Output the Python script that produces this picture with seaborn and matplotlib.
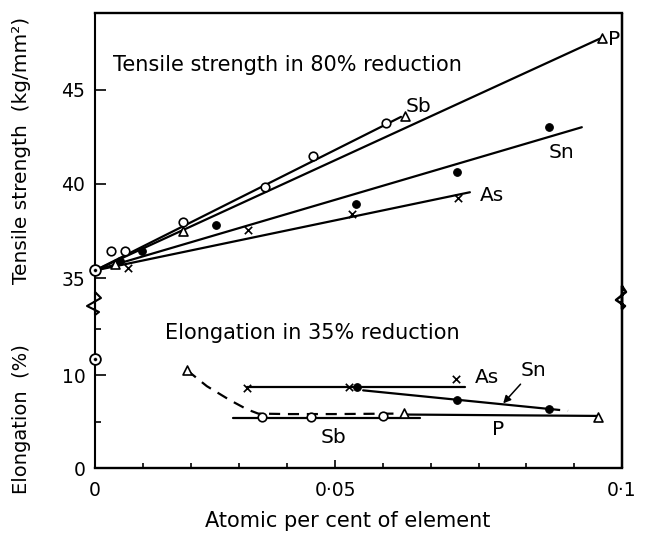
import numpy as np
import matplotlib
matplotlib.use("Agg")
import matplotlib.pyplot as plt
from matplotlib.ticker import NullFormatter
import seaborn as sns

# ---------------- data ----------------
# pure copper (0 at.% addition)
base_x = [0.0]
base_ts = [35.4]          # tensile strength, kg/mm^2
base_el = [11.7]          # elongation, %

# Tensile strength after 80 % reduction (kg/mm^2)
sb_ts_x = [0.0033, 0.0063, 0.0183, 0.0354, 0.0454, 0.0589]
sb_ts = [36.45, 36.45, 37.95, 39.85, 41.45, 43.2]
p_ts_x = [0.0042, 0.0183, 0.0622, 0.0965]
p_ts = [35.75, 37.5, 43.6, 47.75]
sn_ts_x = [0.0052, 0.0098, 0.0252, 0.0537, 0.0713, 0.0873]
sn_ts = [35.9, 36.45, 37.8, 38.95, 40.6, 43.0]
as_ts_x = [0.0069, 0.0319, 0.0530, 0.0714]
as_ts = [35.55, 37.55, 38.4, 39.25]

# fitted tensile lines
sb_ts_fit_x = [0.0, 0.0615]
sb_ts_fit = [35.4, 43.55]
p_ts_fit_x = [0.0, 0.0965]
p_ts_fit = [35.4, 47.75]
sn_ts_fit_x = [0.0, 0.093]
sn_ts_fit = [35.4, 43.0]
as_ts_fit_x = [0.0, 0.0735]
as_ts_fit = [35.4, 39.55]

# Elongation after 35 % reduction (%)
sb_el_x = [0.0348, 0.0450, 0.0584]
sb_el = [5.5, 5.5, 5.55]
p_el_x = [0.0192, 0.0620, 0.0958]
p_el = [10.5, 5.9, 5.5]
sn_el_x = [0.0538, 0.0713, 0.0873]
sn_el = [8.75, 7.3, 6.3]
as_el_x = [0.0317, 0.0525, 0.0711]
as_el = [8.6, 8.7, 9.6]

# elongation trend lines
sb_el_fit_x = [0.0288, 0.0648]
sb_el_fit = [5.4, 5.4]
p_el_curve_x = [0.0192, 0.0233, 0.0281, 0.0317, 0.0340, 0.0400, 0.0500, 0.0610]
p_el_curve = [10.5, 8.8, 7.3, 6.3, 5.85, 5.8, 5.8, 5.85]
p_el_fit_x = [0.0620, 0.0958]
p_el_fit = [5.75, 5.6]
sn_el_fit_x = [0.0549, 0.0873]
sn_el_fit = [8.35, 6.35]
sn_el_tail_x = [0.0873, 0.0906]
sn_el_tail = [6.35, 6.15]
as_el_fit_x = [0.0317, 0.0726]
as_el_fit = [8.7, 8.7]

# axis ticks
y_major = [0, 10, 35, 40, 45]
y_major_labels = ["0", "10", "35", "40", "45"]
y_minor = [5, 15]
x_major = [0.0, 0.05, 0.1]
x_major_labels = ["0", "0·05", "0·1"]


# ---------------- scales ----------------
def piecewise(v, xs, us):
    v = np.asarray(v, dtype=float)
    out = np.interp(v, xs, us)
    lo_slope = (us[1] - us[0]) / (xs[1] - xs[0])
    hi_slope = (us[-1] - us[-2]) / (xs[-1] - xs[-2])
    out = np.where(v < xs[0], us[0] + (v - xs[0]) * lo_slope, out)
    out = np.where(v > xs[-1], us[-1] + (v - xs[-1]) * hi_slope, out)
    return out


# broken y axis: elongation (0-16 %) below, tensile strength (35+) above
Y_V = [0.0, 16.0, 35.0, 50.0]
Y_U = [0.0, 148.8, 190.0, 190.0 + 15 * 18.85]
# x axis as drawn: the upper half is stretched slightly
X_V = [0.0, 0.05, 0.1]
X_U = [0.0, 240.0, 527.0]

W, H = 645, 540
sns.set_style("white")
plt.rcParams["font.family"] = ["DejaVu Sans"]
for key in ("text.color", "axes.labelcolor", "xtick.color", "ytick.color",
            "axes.edgecolor"):
    plt.rcParams[key] = "black"

fig = plt.figure(figsize=(W / 100, H / 100), dpi=100)
ax = fig.add_axes([95 / W, 72 / H, 527 / W, 455 / H])

ax.set_xscale("function", functions=(lambda v: piecewise(v, X_V, X_U),
                                      lambda u: piecewise(u, X_U, X_V)))
ax.set_yscale("function", functions=(lambda v: piecewise(v, Y_V, Y_U),
                                      lambda u: piecewise(u, Y_U, Y_V)))

LW = 1.6
line_kw = dict(color="black", linewidth=LW, estimator=None, sort=False, ax=ax, zorder=2)


def line(x, y, **kw):
    k = dict(line_kw)
    k.update(kw)
    sns.lineplot(x=x, y=y, **k)


# tensile strength lines
line(sb_ts_fit_x, sb_ts_fit)
line(p_ts_fit_x, p_ts_fit)
line(sn_ts_fit_x, sn_ts_fit)
line(as_ts_fit_x, as_ts_fit)

# elongation lines
line(sb_el_fit_x, sb_el_fit)
line(p_el_curve_x, p_el_curve, linestyle=(0, (5, 3.5)))
line(p_el_fit_x, p_el_fit)
line(sn_el_fit_x, sn_el_fit)
line(sn_el_tail_x, sn_el_tail, linestyle=(0, (5, 3.5)))
line(as_el_fit_x, as_el_fit)

open_kw = dict(facecolor="white", edgecolor="black", linewidth=1.2, zorder=4, ax=ax, legend=False)
circle_s = 38
tri_s = 42


def pts(x, y, marker, s, filled=False):
    if marker == "x":
        sns.scatterplot(x=x, y=y, marker="x", s=s, color="black", linewidth=1.2,
                        zorder=4, ax=ax, legend=False)
    elif filled:
        sns.scatterplot(x=x, y=y, marker=marker, s=s, color="black", edgecolor="black",
                        linewidth=0.8, zorder=4, ax=ax, legend=False)
    else:
        sns.scatterplot(x=x, y=y, marker=marker, s=s, **open_kw)


for xs, ys in [(sb_ts_x, sb_ts), (sb_el_x, sb_el)]:
    pts(xs, ys, "o", circle_s)
for xs, ys in [(p_ts_x, p_ts), (p_el_x, p_el)]:
    pts(xs, ys, "^", tri_s)
for xs, ys in [(sn_ts_x, sn_ts), (sn_el_x, sn_el)]:
    pts(xs, ys, "o", 30, filled=True)
for xs, ys in [(as_ts_x, as_ts), (as_el_x, as_el)]:
    pts(xs, ys, "x", 28)

# pure copper: circled dot
for yv in (base_ts, base_el):
    sns.scatterplot(x=base_x, y=yv, marker="o", s=60, facecolor="white",
                    edgecolor="black", linewidth=1.3, zorder=8, ax=ax,
                    legend=False, clip_on=False)
    sns.scatterplot(x=base_x, y=yv, marker="o", s=7, color="black",
                    zorder=9, ax=ax, legend=False, clip_on=False)

ax.set_xlim(0, 0.1)
ax.set_ylim(0, 49.06)

# ---------------- frame with broken sides ----------------
for side in ("left", "right"):
    ax.spines[side].set_visible(False)
for side in ("top", "bottom"):
    ax.spines[side].set_linewidth(1.7)
    ax.spines[side].set_color("black")


def frac(px_dx, py):
    return px_dx / 527.0, (468.0 - py) / 455.0


left_pts = [(0, 468), (0, 292), (6, 298), (-8, 306), (4, 312), (0, 315), (0, 13)]
right_pts = [(0, 468), (0, 286), (4, 292), (-6, 300), (3, 306), (0, 309), (0, 13)]
lx, ly = zip(*[frac(dx, py) for dx, py in left_pts])
rx, ry = zip(*[frac(dx, py) for dx, py in right_pts])
ax.plot(lx, ly, transform=ax.transAxes, color="black", lw=1.5, clip_on=False,
        solid_joinstyle="round", solid_capstyle="butt", zorder=7)
ax.plot(np.array(rx) + 1.0, ry, transform=ax.transAxes, color="black", lw=1.8,
        clip_on=False, solid_joinstyle="round", solid_capstyle="butt", zorder=7)

# ---------------- ticks ----------------
ax.set_yticks(y_major)
ax.set_yticklabels(y_major_labels)
ax.set_yticks(y_minor, minor=True)
ax.yaxis.set_minor_formatter(NullFormatter())
ax.set_xticks(x_major)
ax.set_xticklabels(x_major_labels)
x_minor = [0.01, 0.02, 0.03, 0.04] + [0.05 + k * 0.05 / 6 for k in range(1, 6)]
ax.set_xticks(x_minor, minor=True)
ax.xaxis.set_minor_formatter(NullFormatter())

ax.tick_params(axis="y", which="major", direction="in", length=8, width=1.2,
               pad=7, labelsize=13.5, left=True, right=False, colors="black")
ax.tick_params(axis="y", which="minor", direction="in", length=4.5, width=1.2,
               left=True, right=False, colors="black")
ax.tick_params(axis="x", which="major", direction="in", length=6, width=1.2,
               pad=9, labelsize=13.5, bottom=True, top=False, colors="black")
ax.tick_params(axis="x", which="minor", direction="in", length=3.5, width=1.2,
               bottom=True, top=False, colors="black")

# ---------------- texts ----------------
tk = dict(fontsize=15, color="black", va="center")
ax.text(0.00375, 46.3, "Tensile strength in 80% reduction", ha="left", **tk)
ax.text(0.01458, 14.5, "Elongation in 35% reduction", ha="left", **tk)
lk = dict(fontsize=14.5, color="black", ha="center", va="center")
ax.text(0.0645, 44.12, "Sb", **lk)
ax.text(0.0895, 41.68, "Sn", **lk)
ax.text(0.0774, 39.4, "As", **lk)
ax.text(0.0986, 47.68, "P", **lk)
ax.text(0.0765, 9.68, "As", **lk)
ax.text(0.0784, 4.09, "P", **lk)
ax.text(0.0496, 3.33, "Sb", **lk)
ax.annotate("Sn", xy=(0.0793, 6.95), xytext=(0.0845, 10.5), fontsize=14.5,
            ha="center", va="center", color="black",
            arrowprops=dict(arrowstyle="-|>", color="black", lw=1.1,
                            shrinkA=1, shrinkB=0, mutation_scale=11))

fig.text(22 / W, 1 - 150 / H, "Tensile strength  (kg/mm²)", rotation=90,
         ha="center", va="center", fontsize=14.5, color="black")
fig.text(22 / W, 1 - 419 / H, "Elongation  (%)", rotation=90,
         ha="center", va="center", fontsize=14, color="black")
fig.text(348 / W, 1 - 521 / H, "Atomic per cent of element", ha="center",
         va="center", fontsize=15, color="black")

fig.savefig("out.png", dpi=100)
